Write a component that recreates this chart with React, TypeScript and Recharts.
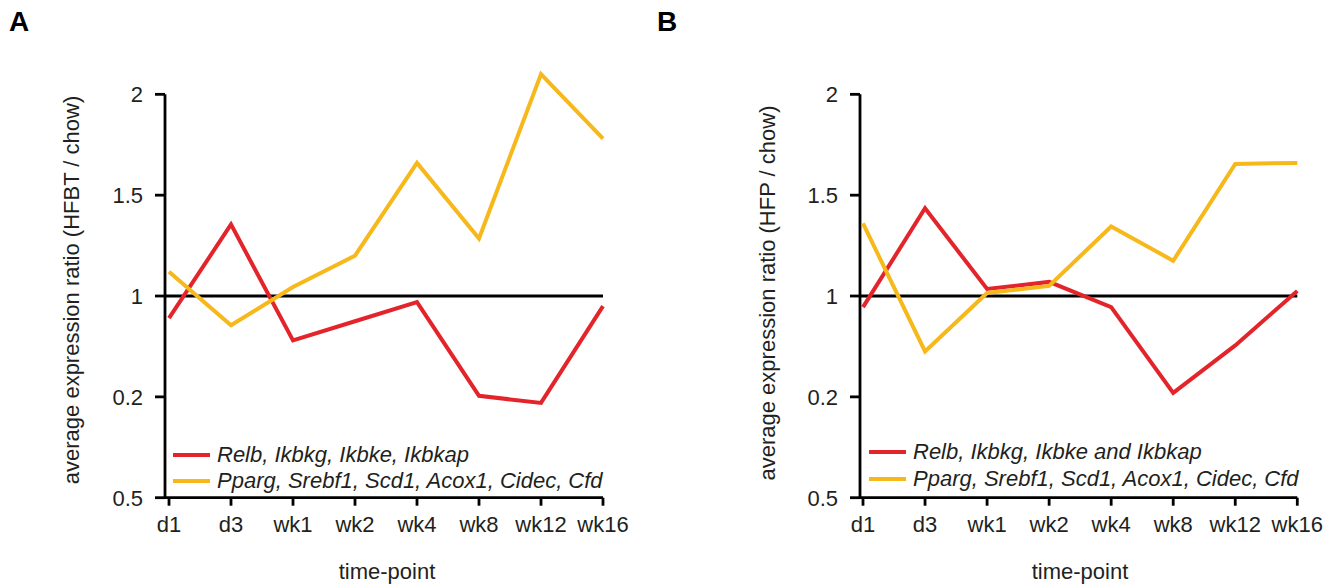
import { LineChart, Line, XAxis, YAxis, ReferenceLine, Legend } from 'recharts';

const CATEGORIES = ['d1', 'd3', 'wk1', 'wk2', 'wk4', 'wk8', 'wk12', 'wk16'];

// y positions on the plot, with the printed tick labels next to them
const Y_TICKS = [0, 0.5, 1, 1.5, 2];
const Y_TICK_LABELS = ['0.5', '0.2', '1', '1.5', '2'];

const A_NFKB = [0.89, 1.355, 0.78, 0.875, 0.97, 0.505, 0.47, 0.95];
const A_ADIPO = [1.12, 0.855, 1.045, 1.2, 1.66, 1.285, 2.1, 1.78];
const B_NFKB = [0.945, 1.435, 1.035, 1.07, 0.945, 0.52, 0.755, 1.025];
const B_ADIPO = [1.36, 0.725, 1.015, 1.05, 1.345, 1.175, 1.655, 1.66];

const NFKB_NAME_A = 'Relb, Ikbkg, Ikbke, Ikbkap';
const NFKB_NAME_B = 'Relb, Ikbkg, Ikbke and Ikbkap';
const ADIPO_NAME = 'Pparg, Srebf1, Scd1, Acox1, Cidec, Cfd';

const RED = '#e3242b';
const YELLOW = '#f6b81a';
const INK = '#231f20';
const FONT = '"Liberation Sans", Arial, Helvetica, sans-serif';
const AXIS_W = 2.8;
const LINE_W = 4;

interface PanelProps {
  letter: string;
  yTitle: string;
  nfkb: number[];
  adipo: number[];
  nfkbName: string;
  left: number;
  width: number;
  axisX: number;
  plotRight: number;
  padLeft: number;
  letterX: number;
  yTitleX: number;
  yTitleY: number;
  xTitleX: number;
  legendX: number;
  legendY: number;
  legendRow: number;
}

function Panel(p: PanelProps) {
  const data = CATEGORIES.map((t, i) => ({ t, nfkb: p.nfkb[i], adipo: p.adipo[i] }));
  const H = 586;

  const renderLegend = ({ payload }: any) => {
    // red series first, as in the figure
    const items = [...(payload || [])].sort((a: any, b: any) =>
      (a.dataKey === 'nfkb' ? 0 : 1) - (b.dataKey === 'nfkb' ? 0 : 1)
    );
    return (
      <div>
        {items.map((e: any) => (
          <div key={e.value} style={{ display: 'flex', alignItems: 'center', height: p.legendRow }}>
            <svg width={37} height={6} style={{ display: 'block' }}>
              <line x1={0} y1={3} x2={37} y2={3} stroke={e.color} strokeWidth={LINE_W} />
            </svg>
            <span style={{ marginLeft: 7, fontStyle: 'italic', fontSize: 22, color: INK, whiteSpace: 'nowrap' }}>
              {e.value}
            </span>
          </div>
        ))}
      </div>
    );
  };

  return (
    <div style={{ position: 'absolute', left: p.left, top: 0, width: p.width, height: H }}>
      <LineChart
        width={p.width}
        height={H}
        data={data}
        margin={{ top: 54, right: p.width - p.plotRight, left: 0, bottom: 48.3 }}
        style={{ fontFamily: FONT }}
      >
        <XAxis
          dataKey="t"
          height={40}
          padding={{ left: p.padLeft, right: 0 }}
          axisLine={{ stroke: '#000', strokeWidth: AXIS_W }}
          tickLine={{ stroke: '#000', strokeWidth: AXIS_W }}
          tickSize={8}
          tickMargin={11}
          tick={{ fill: INK, fontSize: 22 }}
          interval={0}
        />
        <XAxis xAxisId="frame" type="number" domain={[0, 1]} hide />
        <YAxis
          width={p.axisX}
          type="number"
          domain={[0, 2.2]}
          ticks={Y_TICKS}
          tickFormatter={(v: number) => Y_TICK_LABELS[Y_TICKS.indexOf(v)]}
          axisLine={false}
          tickLine={{ stroke: '#000', strokeWidth: AXIS_W }}
          tickSize={10}
          tickMargin={12}
          tick={{ fill: INK, fontSize: 22 }}
        />
        <ReferenceLine
          xAxisId="frame"
          segment={[{ x: 0, y: 0 }, { x: 0, y: 2 }]}
          stroke="#000"
          strokeWidth={AXIS_W}
          ifOverflow="visible"
        />
        <ReferenceLine y={1} stroke="#000" strokeWidth={AXIS_W} />
        <Line
          dataKey="nfkb"
          name={p.nfkbName}
          stroke={RED}
          strokeWidth={LINE_W}
          dot={false}
          activeDot={false}
          isAnimationActive={false}
        />
        <Line
          dataKey="adipo"
          name={ADIPO_NAME}
          stroke={YELLOW}
          strokeWidth={LINE_W}
          dot={false}
          activeDot={false}
          isAnimationActive={false}
        />
        <Legend
          layout="horizontal"
          verticalAlign="middle"
          align="center"
          content={renderLegend}
          wrapperStyle={{ left: p.legendX, top: p.legendY, width: 'auto', height: 'auto' }}
        />
      </LineChart>

      <div
        style={{
          position: 'absolute',
          left: p.letterX,
          top: 8,
          fontFamily: FONT,
          fontWeight: 'bold',
          fontSize: 28,
          lineHeight: '28px',
          color: '#000',
        }}
      >
        {p.letter}
      </div>
      <div
        style={{
          position: 'absolute',
          left: p.yTitleX,
          top: p.yTitleY,
          transform: 'translate(-50%, -50%) rotate(-90deg)',
          whiteSpace: 'nowrap',
          fontFamily: FONT,
          fontSize: 22,
          color: INK,
        }}
      >
        {p.yTitle}
      </div>
      <div
        style={{
          position: 'absolute',
          left: p.xTitleX,
          top: 572,
          transform: 'translate(-50%, -50%)',
          whiteSpace: 'nowrap',
          fontFamily: FONT,
          fontSize: 22,
          color: INK,
        }}
      >
        time-point
      </div>
    </div>
  );
}

export default function App() {
  return (
    <div style={{ position: 'absolute', left: 0, top: 0, width: 1334, height: 586, background: '#fff' }}>
      <Panel
        letter="A"
        yTitle="average expression ratio (HFBT / chow)"
        nfkb={A_NFKB}
        adipo={A_ADIPO}
        nfkbName={NFKB_NAME_A}
        left={0}
        width={660}
        axisX={165}
        plotRight={603}
        padLeft={4}
        letterX={9}
        yTitleX={72}
        yTitleY={290}
        xTitleX={387}
        legendX={173}
        legendY={442}
        legendRow={26}
      />
      <Panel
        letter="B"
        yTitle="average expression ratio (HFP / chow)"
        nfkb={B_NFKB}
        adipo={B_ADIPO}
        nfkbName={NFKB_NAME_B}
        left={660}
        width={674}
        axisX={200}
        plotRight={637.3}
        padLeft={3}
        letterX={-3}
        yTitleX={108}
        yTitleY={293}
        xTitleX={420}
        legendX={209}
        legendY={439}
        legendRow={26.5}
      />
    </div>
  );
}
